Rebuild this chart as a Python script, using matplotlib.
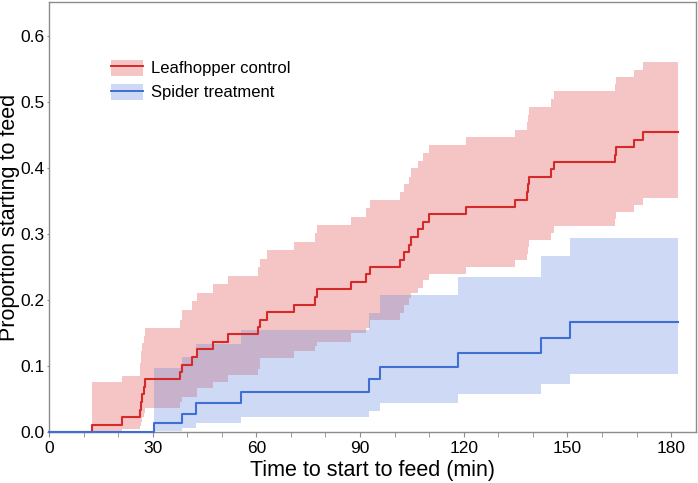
import matplotlib.pyplot as plt
from matplotlib.lines import Line2D
from matplotlib.patches import Patch
from matplotlib.ticker import MultipleLocator

# Leafhopper control: step times (min), cumulative proportion feeding, 95% band
ctl_time = [0, 12.3, 21.0, 26.3, 26.6, 27.0, 27.4, 27.8, 37.9, 38.6, 41.3, 42.7,
            47.4, 51.9, 60.6, 61.1, 63.0, 71.0, 77.0, 77.5, 87.3, 91.7, 93.0,
            101.6, 102.7, 104.2, 104.7, 106.9, 108.1, 110.0, 120.6, 134.8,
            138.2, 138.5, 138.8, 145.3, 146.0, 163.8, 164.1, 169.4, 171.8]
ctl_prop = [0, 0.011, 0.023, 0.034, 0.045, 0.057, 0.068, 0.080, 0.091, 0.102,
            0.114, 0.125, 0.136, 0.148, 0.159, 0.170, 0.182, 0.193, 0.205, 0.216,
            0.227, 0.239, 0.250, 0.261, 0.273, 0.284, 0.295, 0.307, 0.318, 0.330,
            0.341, 0.352, 0.364, 0.375, 0.386, 0.398, 0.409, 0.420, 0.432, 0.443,
            0.455]
ctl_low = [0, 0.002, 0.004, 0.009, 0.015, 0.022, 0.029, 0.036, 0.045, 0.053,
           0.053, 0.066, 0.076, 0.086, 0.095, 0.112, 0.112, 0.122, 0.130, 0.136,
           0.150, 0.158, 0.170, 0.180, 0.192, 0.203, 0.210, 0.218, 0.230, 0.240,
           0.250, 0.260, 0.270, 0.281, 0.291, 0.301, 0.312, 0.323, 0.334, 0.344,
           0.355]
ctl_high = [0, 0.076, 0.085, 0.105, 0.122, 0.135, 0.146, 0.157, 0.170, 0.185,
            0.198, 0.211, 0.224, 0.236, 0.250, 0.262, 0.276, 0.288, 0.301, 0.314,
            0.326, 0.339, 0.352, 0.363, 0.375, 0.387, 0.400, 0.411, 0.422, 0.435,
            0.447, 0.458, 0.470, 0.481, 0.492, 0.504, 0.516, 0.527, 0.538, 0.549,
            0.560]

# Spider treatment
spd_time = [0, 30.4, 38.4, 42.5, 55.5, 92.7, 95.8, 118.4, 142.5, 150.7]
spd_prop = [0, 0.014, 0.028, 0.044, 0.061, 0.080, 0.099, 0.120, 0.143, 0.166]
spd_low = [0, 0.001, 0.006, 0.013, 0.023, 0.032, 0.044, 0.058, 0.073, 0.088]
spd_high = [0, 0.097, 0.113, 0.133, 0.155, 0.181, 0.207, 0.235, 0.266, 0.294]

t_end = 182.0
x_ticks = [0, 30, 60, 90, 120, 150, 180]
y_ticks = [0.0, 0.1, 0.2, 0.3, 0.4, 0.5, 0.6]

font = ['Liberation Sans', 'DejaVu Sans']


def extend(t, v):
    # carry the last value on to the end of follow-up
    return list(t) + [t_end], list(v) + [v[-1]]


fig = plt.figure(figsize=(6.98, 4.83), dpi=100)
ax = fig.add_axes([0.0702, 0.1056, 0.9269, 0.8903])

series = [
    ("Leafhopper control", ctl_time, ctl_prop, ctl_low, ctl_high, "#e13e3e", "#d42a2a"),
    ("Spider treatment", spd_time, spd_prop, spd_low, spd_high, "#5f87de", "#3f6fd2"),
]

handles = []
for name, t, p, lo, hi, band_col, line_col in series:
    tx, lo_x = extend(t, lo)
    _, hi_x = extend(t, hi)
    _, p_x = extend(t, p)
    ax.fill_between(tx, lo_x, hi_x, step="post", color=band_col, alpha=0.3,
                    linewidth=0)
    ax.step(tx, p_x, where="post", color=line_col, lw=1.5, zorder=3,
            clip_on=False)
    handles.append((Patch(facecolor=band_col, alpha=0.3, edgecolor="none"),
                    Line2D([], [], color=line_col, lw=1.4)))

ax.set_xlim(0, 187.2)
ax.set_ylim(0, 0.6515)
ax.set_xticks(x_ticks)
ax.xaxis.set_minor_locator(MultipleLocator(10))
ax.set_yticks(y_ticks)
ax.set_yticklabels([f"{v:.1f}" for v in y_ticks])

for s in ax.spines.values():
    s.set_color("#8c8c8c")
    s.set_linewidth(1.0)

ax.tick_params(axis="x", which="both", length=3.5, color="#8c8c8c", pad=3)
ax.tick_params(axis="y", which="both", length=1.5, color="#8c8c8c", pad=1.5)
for lab in ax.get_xticklabels() + ax.get_yticklabels():
    lab.set_family(font)
    lab.set_fontsize(12.5)

ax.set_xlabel("Time to start to feed (min)", family=font, fontsize=15.5,
              labelpad=3)
ax.set_ylabel("Proportion starting to feed", family=font, fontsize=15.5,
              labelpad=0.5)

ax.legend(handles, [s[0] for s in series], loc="upper left",
          bbox_to_anchor=(0.0957, 0.866), frameon=False,
          prop={"family": font, "size": 12},
          handlelength=1.95, handleheight=1.1, handletextpad=0.45,
          labelspacing=0.45, borderaxespad=0, borderpad=0)

fig.savefig("out.png", dpi=100)
